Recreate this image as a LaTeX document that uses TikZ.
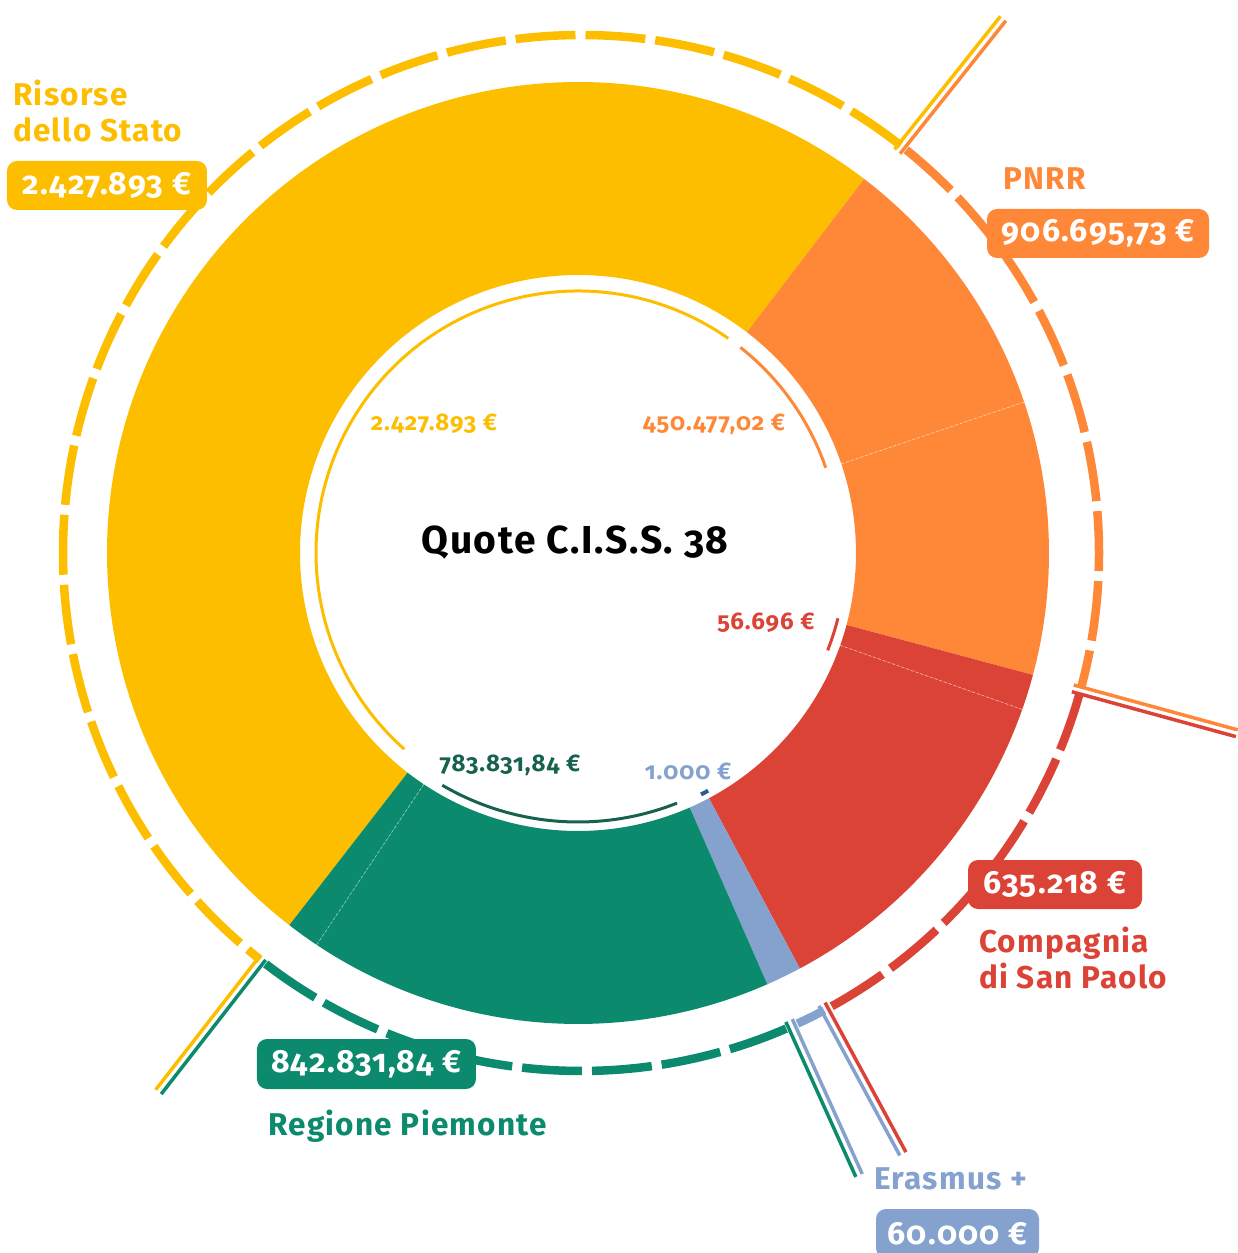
\documentclass[tikz,border=0pt]{standalone}
\usepackage{fontspec}
\setmainfont{Fira Sans}[Numbers=OldStyle, LetterSpace=4]
\usepackage{xcolor}
\usepackage{tikz}
\usetikzlibrary{positioning}

\definecolor{cissYellow}{HTML}{FDBE00}
\definecolor{cissOrange}{HTML}{FF8838}
\definecolor{cissRed}{HTML}{DC4337}
\definecolor{cissGreen}{HTML}{0B8A6E}
\definecolor{cissDarkGreen}{HTML}{17614F}
\definecolor{cissBlue}{HTML}{85A2CF}
\definecolor{cissNavy}{HTML}{2C5A9A}

\begin{document}
\begin{tikzpicture}[x=1pt, y=1pt,
        ringarc/.style={draw=#1, line width=8.5pt, dash pattern=on 60pt off 10pt},
        leader/.style={draw=#1, line width=3.5pt},
        valarc/.style={draw=#1, line width=3pt},
        badge/.style={fill=#1, text=white, rounded corners=10pt, minimum height=49pt, inner xsep=0pt, font=\bfseries\fontsize{32}{34}\selectfont},
        biglabel/.style={text=#1, align=left, inner sep=0pt, font=\bfseries\fontsize{31.5}{36}\selectfont},
        value/.style={text=#1, inner sep=0pt, font=\bfseries\fontsize{24}{26}\selectfont}]

        \useasboundingbox (-578,-700) rectangle (659,553);

        % Donut slices
        \foreach \a/\b/\c in {52.6/232.2/cissYellow, 18.7/52.6/cissOrange, -15/18.7/cissOrange,
                              -19.4/-15/cissRed, -61.9/-19.4/cissRed, -66.3/-61.9/cissBlue,
                              -123.7/-66.3/cissGreen, -127.8/-123.7/cissGreen}
            \fill[\c] (\a:471) arc[start angle=\a, end angle=\b, radius=471]
                -- (\b:278) arc[start angle=\b, end angle=\a, radius=278] -- cycle;

        % Sub-quota borders
        \foreach \a in {18.7,-19.4,-123.7}
            \draw[white, opacity=0.45, line width=0.8pt, dash pattern=on 3pt off 2pt] (\a:278) -- (\a:471);

        % Inner quota arcs
        \draw[valarc=cissYellow] (55:262) arc[start angle=55, end angle=228.5, radius=262];
        \draw[valarc=cissOrange] (19:262) arc[start angle=19, end angle=51.7, radius=262];
        \draw[valarc=cissRed] (-21.3:268) arc[start angle=-21.3, end angle=-14.1, radius=268];
        \draw[valarc=cissDarkGreen] (-120.3:269) arc[start angle=-120.3, end angle=-68.4, radius=269];
        \draw[cissNavy, line width=4pt] (-63:271) arc[start angle=-63, end angle=-61.3, radius=271];

        % Outer dashed ring
        \begin{scope}[shift={(3,0)}]
            \draw[ringarc=cissYellow] (51.9:518) arc[start angle=51.9, end angle=231.7, radius=518];
            \draw[ringarc=cissOrange] (51.1:518) arc[start angle=51.1, end angle=-14.9, radius=518];
            \draw[ringarc=cissRed] (-15.7:518) arc[start angle=-15.7, end angle=-61.2, radius=518];
            \draw[cissBlue, line width=8.5pt] (-62:518) arc[start angle=-62, end angle=-65.3, radius=518];
            \draw[ringarc=cissGreen] (-127.5:518) arc[start angle=-127.5, end angle=-66.1, radius=518];
        \end{scope}

        % Leader lines
        \foreach \t/\ca/\cb in {51.5/cissYellow/cissOrange, -15.3/cissOrange/cissRed,
                                -61.6/cissRed/cissBlue, -65.7/cissBlue/cissGreen,
                                -127.9/cissGreen/cissYellow}
        {
            \draw[leader=\ca, rotate=\t] (513,3.5) -- (683,3.5);
            \draw[leader=\cb, rotate=\t] (513,-3.5) -- (683,-3.5);
        }

        % Centre title and inner values
        \node[font=\bfseries\fontsize{39}{42}\selectfont] (title) at (-3,10) {Quote C.I.S.S. 38};
        \node[value=cissYellow] (stateValue) at (-144,129) {2.427.893 €};
        \node[value=cissOrange] (pnrrValue) at (136,129) {450.477,02 €};
        \node[value=cissRed] (paoloValue) at (188,-70) {56.696 €};
        \node[value=cissDarkGreen] (regionValue) at (-68,-212) {783.831,84 €};
        \node[value=cissBlue] (erasmusValue) at (110,-218) {1.000 €};

        % Outer labels
        \node[biglabel=cissYellow, anchor=base west] (stateLabel) at (-565,411) {Risorse\\dello Stato};
        \node[badge=cissYellow, minimum width=200pt] (stateBadge) at (-471,367.5) {2.427.893 €};

        \node[biglabel=cissOrange, anchor=base west] (pnrrLabel) at (425,363) {PNRR};
        \node[badge=cissOrange, minimum width=222pt] (pnrrBadge) at (520,319.5) {906.695,73 €};

        \node[badge=cissRed, minimum width=174pt] (paoloBadge) at (477,-331.5) {635.218 €};
        \node[biglabel=cissRed, anchor=base west] (paoloLabel) at (401,-435) {Compagnia\\di San Paolo};

        \node[badge=cissGreen, minimum width=219pt, minimum height=50pt] (regionBadge) at (-211.5,-511) {842.831,84 €};
        \node[biglabel=cissGreen, anchor=base west] (regionLabel) at (-310,-582) {Regione Piemonte};

        \node[biglabel=cissBlue, anchor=base west] (erasmusLabel) at (296,-636) {Erasmus +};
        \node[badge=cissBlue, minimum width=163pt] (erasmusBadge) at (379.5,-680.5) {60.000 €};

    \end{tikzpicture}
\end{document}
